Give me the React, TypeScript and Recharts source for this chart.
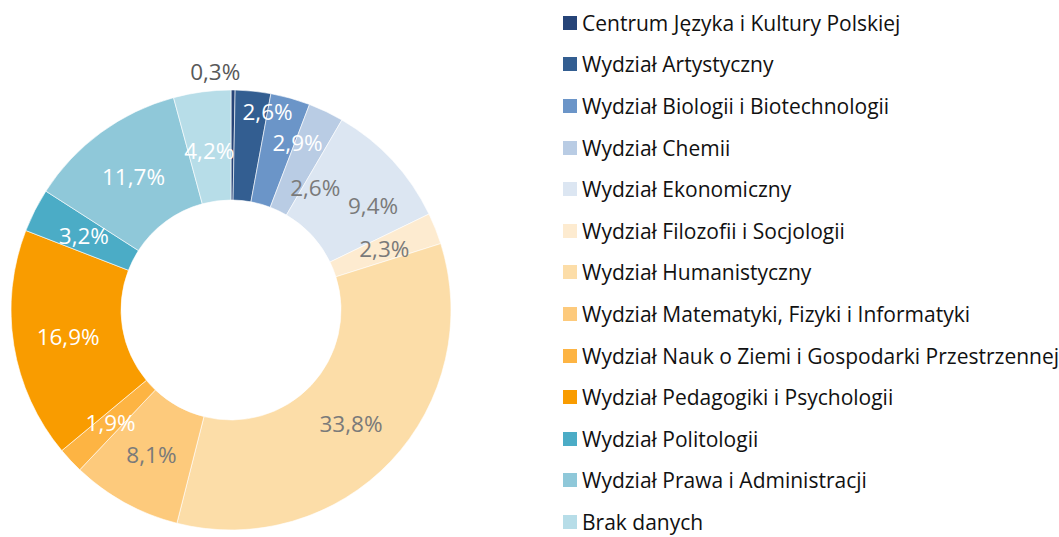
import { Legend, Pie, PieChart, Cell } from "recharts";

const categories = [
  "Centrum Języka i Kultury Polskiej",
  "Wydział Artystyczny",
  "Wydział Biologii i Biotechnologii",
  "Wydział Chemii",
  "Wydział Ekonomiczny",
  "Wydział Filozofii i Socjologii",
  "Wydział Humanistyczny",
  "Wydział Matematyki, Fizyki i Informatyki",
  "Wydział Nauk o Ziemi i Gospodarki Przestrzennej",
  "Wydział Pedagogiki i Psychologii",
  "Wydział Politologii",
  "Wydział Prawa i Administracji",
  "Brak danych",
];

const shares = [0.3, 2.6, 2.9, 2.6, 9.4, 2.3, 33.8, 8.1, 1.9, 16.9, 3.2, 11.7, 4.2];

const colors = [
  "#264478", "#335e91", "#6b95c8", "#b9cce4", "#dce6f2", "#fdebd0", "#fcdda8",
  "#fdca7c", "#fdb443", "#f99c00", "#4bacc6", "#8fc8d9", "#b7dde8",
];

// white text on darker slices, grey on the pale ones
const labelColors = [
  "#595959", "#ffffff", "#ffffff", "#7a7a7a", "#7a7a7a", "#7a7a7a", "#7a7a7a",
  "#7a7a7a", "#ffffff", "#ffffff", "#ffffff", "#ffffff", "#ffffff",
];

// small shifts Excel applied to crowded labels
const labelNudge: [number, number][] = [
  [-18, 0], [20, -34], [22, -9], [13, 26], [21, 8], [0, 0], [0, 0],
  [0, 0], [0, 0], [0, 0], [0, 0], [0, 0], [0, 4],
];

const data = categories.map((name, i) => ({ name, value: shares[i] }));

const FONT = "'Open Sans', 'Noto Sans', sans-serif";
const RAD = Math.PI / 180;

function renderLabel(props: any) {
  const { cx, cy, midAngle, innerRadius, outerRadius, index, value } = props;
  const outside = index === 0;
  const r = outside ? outerRadius + 19 : (innerRadius + outerRadius) / 2;
  const [dx, dy] = labelNudge[index] || [0, 0];
  const x = cx + r * Math.cos(-midAngle * RAD) + dx;
  const y = cy + r * Math.sin(-midAngle * RAD) + dy;
  return (
    <text
      x={x}
      y={y}
      fill={labelColors[index]}
      textAnchor="middle"
      dominantBaseline="central"
      fontFamily={FONT}
      fontSize={22.5}
    >
      {String(value).replace(".", ",") + "%"}
    </text>
  );
}

// legend keeps the data order (recharts would sort it by name)
function LegendList() {
  return (
    <ul style={{ margin: 0, padding: 0, listStyle: "none", fontFamily: FONT, fontSize: 21, color: "#111" }}>
      {categories.map((c, i) => (
        <li key={c} style={{ height: 41.6, display: "flex", alignItems: "center", whiteSpace: "nowrap" }}>
          <span style={{ width: 14, height: 14, background: colors[i], marginRight: 5, flex: "none" }} />
          <span>{c}</span>
        </li>
      ))}
    </ul>
  );
}

export default function App() {
  return (
    <div style={{ position: "absolute", left: 0, top: 0, width: 1059, height: 537, overflow: "hidden", background: "#fff" }}>
      <PieChart width={1059} height={537} margin={{ top: 0, right: 0, bottom: 0, left: 0 }}>
        <Pie
          data={data}
          dataKey="value"
          nameKey="name"
          cx={231}
          cy={310}
          innerRadius={110}
          outerRadius={220}
          startAngle={90}
          endAngle={-270}
          stroke="#ffffff"
          strokeWidth={0.6}
          label={renderLabel}
          labelLine={false}
          isAnimationActive={false}
        >
          {data.map((d, i) => (
            <Cell key={d.name} fill={colors[i]} />
          ))}
        </Pie>
        <Legend
          layout="vertical"
          align="right"
          verticalAlign="top"
          content={<LegendList />}
          wrapperStyle={{ left: 563, top: 2, width: 496 }}
        />
      </PieChart>
    </div>
  );
}
